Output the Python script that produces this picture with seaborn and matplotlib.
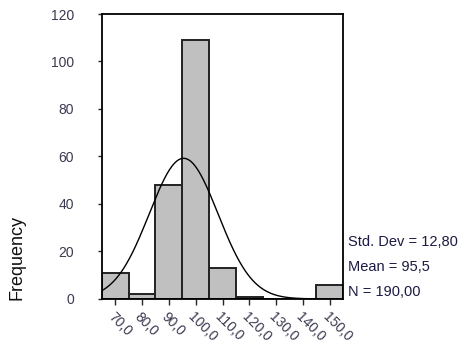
import numpy as np
import pandas as pd
import matplotlib
matplotlib.use("Agg")
import matplotlib.pyplot as plt
import seaborn as sns

# bin centres and counts
bin_centers = [70, 80, 90, 100, 110, 120, 130, 140, 150]
counts = [11, 2, 48, 109, 13, 1, 0, 0, 6]
tick_labels = ["70,0", "80,0", "90,0", "100,0", "110,0", "120,0", "130,0", "140,0", "150,0"]

# summary statistics shown beside the chart
std_dev = 12.80
mean = 95.5
n_total = 190
bin_width = 10

sns.set_style("white")
plt.rcParams["font.family"] = ["Liberation Sans", "DejaVu Sans"]

df = pd.DataFrame({"value": bin_centers, "count": counts})
edges = [c - bin_width / 2 for c in bin_centers] + [bin_centers[-1] + bin_width / 2]

fig = plt.figure(figsize=(4.65, 3.5), dpi=100)
ax = fig.add_axes([0.219, 0.146, 0.519, 0.814])

sns.histplot(
    data=df,
    x="value",
    weights="count",
    bins=edges,
    color="#c0c0c0",
    edgecolor="#222222",
    linewidth=1.4,
    alpha=1,
    ax=ax
)

# fitted normal curve from the reported mean / std / N
xs = np.linspace(edges[0], edges[-1], 300)
ys = n_total * bin_width / (std_dev * np.sqrt(2 * np.pi)) * np.exp(-0.5 * ((xs - mean) / std_dev) ** 2)
ax.plot(xs, ys, color="black", linewidth=1.0)

ax.set_xlim(edges[0], edges[-1])
ax.set_ylim(0, 120)
ax.set_yticks([0, 20, 40, 60, 80, 100, 120])
ax.set_xticks(bin_centers)
ax.set_xticklabels(tick_labels, rotation=-45, ha="left", rotation_mode="anchor")

for side in ["left", "right", "top", "bottom"]:
    ax.spines[side].set_visible(True)
    ax.spines[side].set_color("black")
    ax.spines[side].set_linewidth(1.3)

ax.tick_params(axis="y", direction="out", length=3, width=1, pad=17,
               labelsize=10, labelcolor="#3a3a50", left=True)
ax.tick_params(axis="x", direction="out", length=4, width=1, pad=4,
               labelsize=10, labelcolor="#3a3a50", bottom=True)

ax.set_xlabel("")
ax.set_ylabel("")
fig.text(0.037, 0.143, "Frequency", rotation=90, ha="center", va="bottom",
         fontsize=13, color="#111111")

stats = [f"Std. Dev = {std_dev:.2f}".replace(".", ",").replace("Std, Dev", "Std. Dev"),
         f"Mean = {mean:.1f}".replace(".", ","),
         f"N = {n_total:.2f}".replace(".", ",")]
for i, s in enumerate(stats):
    fig.text(0.748, 1 - (242 + 25 * i) / 350, s, ha="left", va="center",
             fontsize=10.5, color="#1a1a44")

fig.savefig("out.png", dpi=100)
